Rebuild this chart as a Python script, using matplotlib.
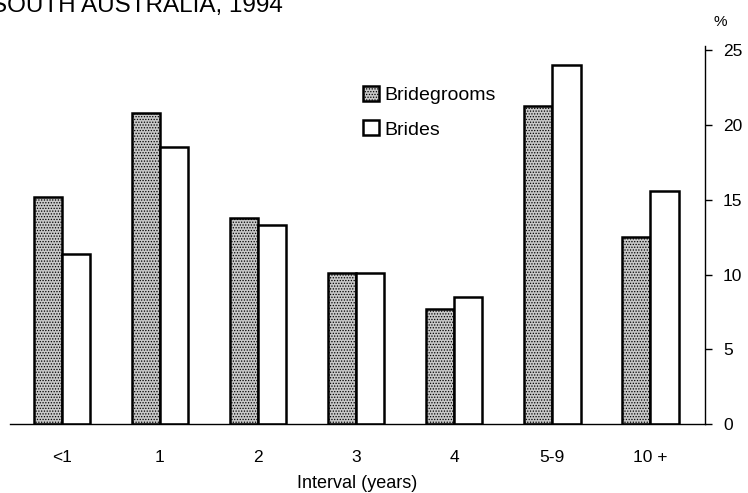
import matplotlib
matplotlib.use("Agg")
import matplotlib.pyplot as plt
import numpy as np

# 数据：婚前同居间隔（%）
intervals = ["<1", "1", "2", "3", "4", "5-9", "10 +"]
bridegrooms = [15.2, 20.8, 13.8, 10.1, 7.7, 21.3, 12.5]
brides = [11.4, 18.5, 13.3, 10.1, 8.5, 24.0, 15.6]
yticks = [0, 5, 10, 15, 20, 25]

plt.rcParams["font.family"] = ["Liberation Sans", "DejaVu Sans"]
plt.rcParams["hatch.linewidth"] = 0.6

fig = plt.figure(figsize=(7.48, 4.93), dpi=100)
ax = fig.add_axes([0.0134, 0.14, 0.9291, 0.767])

x = np.arange(len(intervals))
w = 0.29
ax.bar(x - w / 2, bridegrooms, width=w, facecolor="#c8c8c8", edgecolor="black",
       hatch="......", linewidth=1.8, label="Bridegrooms")
ax.bar(x + w / 2, brides, width=w, facecolor="white", edgecolor="black",
       linewidth=1.8, label="Brides")

ax.set_xlim(-0.53, 6.56)
ax.set_ylim(0, 25.3)

# 右侧坐标轴
for s in ("left", "top"):
    ax.spines[s].set_visible(False)
ax.spines["right"].set_linewidth(1.0)
ax.spines["bottom"].set_linewidth(1.0)
ax.yaxis.tick_right()
ax.set_yticks(yticks)
ax.tick_params(axis="y", direction="out", length=5, width=1.0, pad=8, labelsize=12.5)
ax.set_xticks(x)
ax.set_xticklabels(intervals)
ax.tick_params(axis="x", length=0, pad=19, labelsize=12.5)
ax.set_xlabel("Interval (years)", fontsize=13, labelpad=7)

ax.text(1.012, 1.045, "%", transform=ax.transAxes, fontsize=11, ha="left", va="bottom")

leg = ax.legend(loc="upper left", bbox_to_anchor=(0.497, 0.915), frameon=False,
                fontsize=14, handlelength=0.8, handleheight=0.8,
                handletextpad=0.3, labelspacing=0.85, borderaxespad=0)

fig.text(-0.012, 0.988, "SOUTH AUSTRALIA, 1994", fontsize=17.5, ha="left", va="center")

fig.savefig("out.png", dpi=100)
